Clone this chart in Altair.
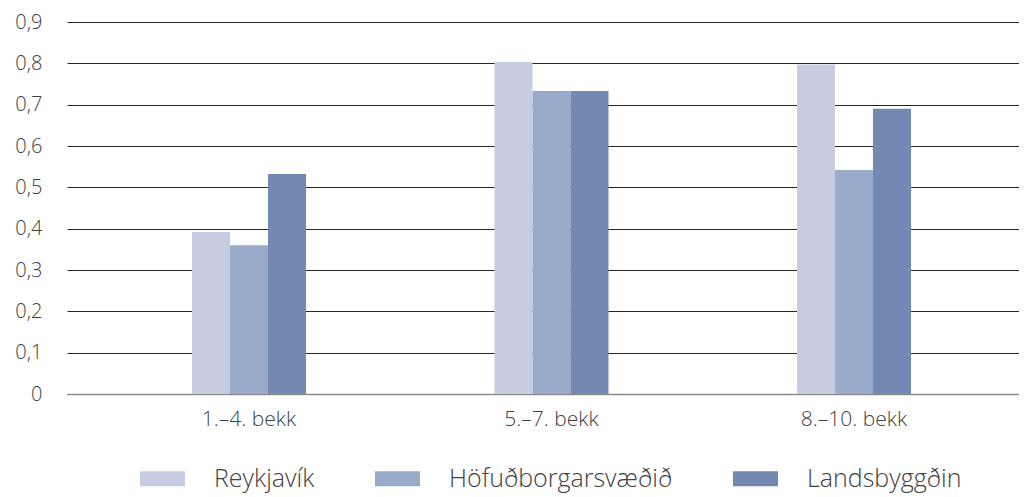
import altair as alt
import pandas as pd

categories = ["1.–4. bekk", "5.–7. bekk", "8.–10. bekk"]
series = ["Reykjavík", "Höfuðborgarsvæðið", "Landsbyggðin"]
reykjavik = [0.392, 0.803, 0.797]
hofudborg = [0.360, 0.733, 0.542]
landsbyggd = [0.532, 0.733, 0.690]
colors = ["#c7cde1", "#9aaaca", "#7388b2"]
y_ticks = [0, 0.1, 0.2, 0.3, 0.4, 0.5, 0.6, 0.7, 0.8, 0.9]

rows = []
for s, vals in zip(series, [reykjavik, hofudborg, landsbyggd]):
    for c, v in zip(categories, vals):
        rows.append({"cat": c, "series": s, "value": v})
df = pd.DataFrame(rows)

FONT = "Open Sans"
TXT = "#404040"

chart = alt.Chart(df).mark_bar().encode(
    x=alt.X("cat:N", sort=categories, title=None,
            scale=alt.Scale(paddingInner=0, paddingOuter=0.0736, align=0.691),
            axis=alt.Axis(labelAngle=0, ticks=False, domainColor="#8c8c8c", domainWidth=1.5,
                          labelFontSize=21, labelColor=TXT, labelPadding=14, labelFont=FONT,
                          labelFontWeight=300)),
    xOffset=alt.XOffset("series:N", sort=series,
                        scale=alt.Scale(paddingInner=0, paddingOuter=0, range=[94.25, 208.25])),
    y=alt.Y("value:Q", title=None,
            scale=alt.Scale(domain=[0, 0.9], nice=False),
            axis=alt.Axis(values=y_ticks, domain=False, ticks=False, grid=True,
                          gridColor="#262626", gridWidth=1, labelFontSize=20,
                          labelColor=TXT, labelPadding=25, labelFont=FONT, labelFontWeight=300,
                          labelExpr="datum.value == 0 ? '0' : replace(format(datum.value, '.1f'), '.', ',')")),
    color=alt.Color("series:N", sort=series,
                    scale=alt.Scale(domain=series, range=colors),
                    legend=alt.Legend(title=None, orient="none", direction="horizontal",
                                      legendX=73, legendY=434,
                                      symbolType="M-1,-0.333H1V0.333H-1Z", symbolSize=2025,
                                      symbolStrokeWidth=0, symbolOpacity=1,
                                      labelFontSize=25, labelFont=FONT, labelFontWeight=300,
                                      labelColor=TXT, labelOffset=29, columnPadding=60,
                                      labelLimit=0, padding=0)),
).properties(
    width=952, height=372,
    autosize=alt.AutoSizeParams(type="none"),
    padding={"left": 59, "top": 14, "right": 0, "bottom": 103},
).configure_view(stroke=None)

chart.save("out.html", embed_options={"renderer": "svg", "actions": False})
